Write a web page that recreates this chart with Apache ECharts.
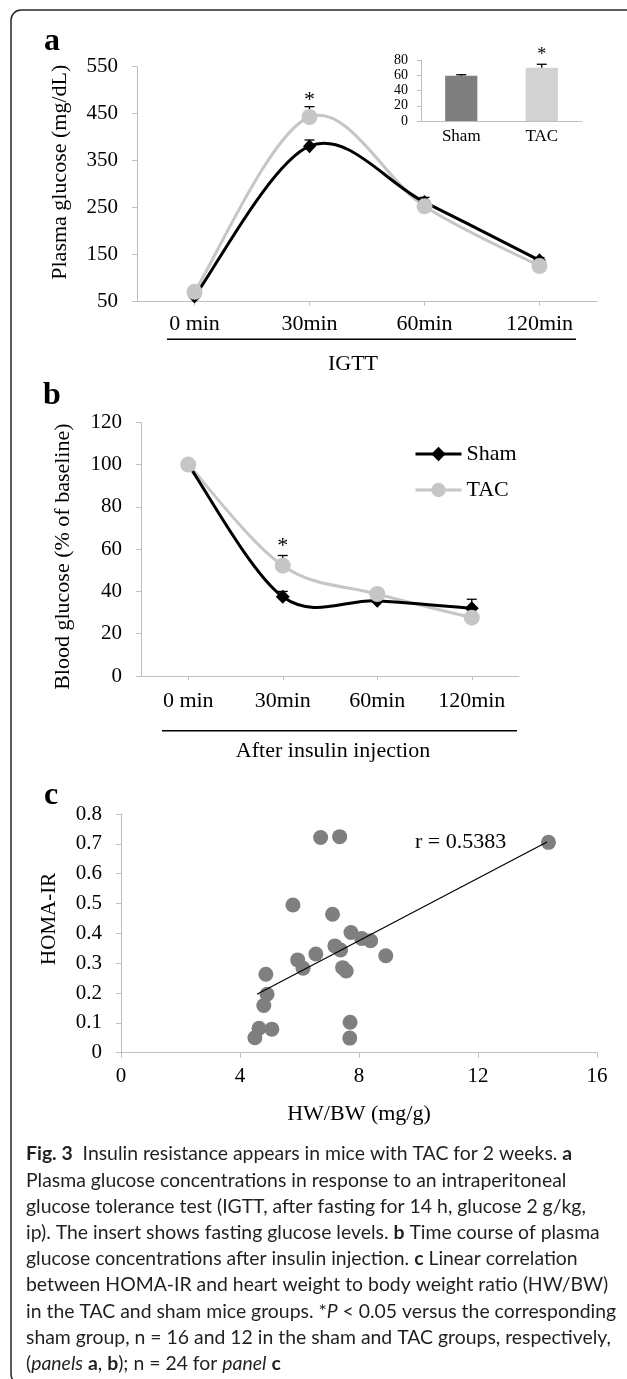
<!DOCTYPE html>
<html>
<head>
<meta charset="utf-8">
<script src="https://cdn.jsdelivr.net/npm/echarts@6/dist/echarts.min.js"></script>
<style>
html,body{margin:0;padding:0;background:#fff;}
#chart{width:627px;height:1379px;}
</style>
</head>
<body>
<div id="chart"></div>
<script>
// ---------- data ----------
const timeCategories = ['0 min', '30min', '60min', '120min'];

// panel a : IGTT plasma glucose (mg/dL)
const glucoseSham    = [61, 381, 262, 138];
const glucoseShamErr = [3, 13, 10, 6];
const glucoseTAC     = [71, 443, 253, 126];
const glucoseTACErr  = [4, 22, 8, 4];
const glucoseStar    = [[1, 478]];
const glucoseTicks   = [50, 150, 250, 350, 450, 550];

// inset : fasting glucose
const insetGroups       = ['Sham', 'TAC'];
const fastingGlucose    = [59.5, 70];
const fastingGlucoseErr = [1.2, 4.4];
const fastingStar       = [[1, 85.6]];
const insetTicks        = [0, 20, 40, 60, 80];

// panel b : blood glucose after insulin (% of baseline)
const insulinSham    = [100, 37.5, 35.6, 32];
const insulinShamErr = [0, 2.5, 2, 4.3];
const insulinTAC     = [100, 52.2, 38.8, 27.6];
const insulinTACErr  = [0, 4.8, 2.5, 2];
const insulinStar    = [[1, 61.6]];
const insulinTicks   = [0, 20, 40, 60, 80, 100, 120];

// panel c : HOMA-IR vs HW/BW
const hwbw   = [6.71, 7.35, 14.37, 5.78, 7.11, 7.73, 8.09, 8.39, 7.19, 7.38, 6.55, 8.90,
                5.94, 6.12, 7.45, 7.57, 4.87, 4.91, 4.80, 7.70, 4.64, 5.07, 4.50, 7.69];
const homaIR = [0.721, 0.724, 0.705, 0.495, 0.464, 0.403, 0.383, 0.375, 0.358, 0.344, 0.331, 0.325,
                0.311, 0.283, 0.285, 0.274, 0.263, 0.196, 0.158, 0.102, 0.082, 0.079, 0.050, 0.049];
const trendX = [4.57, 14.32];
const trendY = [0.196, 0.706];
const hwbwTicks = [0, 4, 8, 12, 16];
const homaTicks = [0, 0.1, 0.2, 0.3, 0.4, 0.5, 0.6, 0.7, 0.8];
const corrLabel = 'r = 0.5383';

const captionLines = [
  '{b|Fig. 3}  Insulin resistance appears in mice with TAC for 2 weeks. {b|a}',
  'Plasma glucose concentrations in response to an intraperitoneal',
  'glucose tolerance test (IGTT, after fasting for 14 h, glucose 2 g/kg,',
  'ip). The insert shows fasting glucose levels. {b|b} Time course of plasma',
  'glucose concentrations after insulin injection. {b|c} Linear correlation',
  'between HOMA-IR and heart weight to body weight ratio (HW/BW)',
  'in the TAC and sham mice groups. *{i|P} < 0.05 versus the corresponding',
  'sham group, n = 16 and 12 in the sham and TAC groups, respectively,',
  '({i|panels} {b|a}, {b|b}); n = 24 for {i|panel} {b|c}'
];

// ---------- styles ----------
const SERIF = 'Liberation Serif';
const AXIS_GRAY = '#bfbfbf';
const BLACK = '#000000';
const LIGHT = '#c6c6c6';
const DARK_BAR = '#7f7f7f';
const LIGHT_BAR = '#d2d2d2';
const CAP_FONT = '19.4px Lato';

function valueAxis(grid, ticks, extra) {
  return Object.assign({
    gridIndex: grid, type: 'value',
    min: ticks[0], max: ticks[ticks.length - 1], interval: ticks[1] - ticks[0],
    splitLine: {show: false},
    axisLine: {show: true, lineStyle: {color: AXIS_GRAY, width: 1}},
    axisTick: {show: true, length: 5, lineStyle: {color: AXIS_GRAY}},
    axisLabel: {margin: 19, fontFamily: SERIF, fontSize: 21, color: BLACK},
    nameTextStyle: {fontFamily: SERIF, fontSize: 21, color: BLACK}
  }, extra);
}
function catAxis(grid, cats, extra) {
  return Object.assign({
    gridIndex: grid, type: 'category', data: cats, boundaryGap: true,
    axisLine: {show: true, lineStyle: {color: AXIS_GRAY, width: 1}},
    axisTick: {show: true, alignWithLabel: true, length: 4, lineStyle: {color: AXIS_GRAY}},
    axisLabel: {margin: 12, fontFamily: SERIF, fontSize: 22, color: BLACK, interval: 0},
    splitLine: {show: false},
    nameTextStyle: {fontFamily: SERIF, fontSize: 22, color: BLACK}
  }, extra);
}
function errData(means, errs) { return means.map((m, i) => [i, m, errs[i]]); }
function errorBars(xi, yi, means, errs, capW, z) {
  return {
    type: 'custom', xAxisIndex: xi, yAxisIndex: yi, z: z, silent: true,
    encode: {x: 0, y: 1},
    data: errData(means, errs),
    renderItem: function (params, api) {
      const idx = api.value(0), m = api.value(1), e = api.value(2);
      const p0 = api.coord([idx, m]);
      const p1 = api.coord([idx, m + e]);
      const st = {stroke: BLACK, lineWidth: 1.3};
      return {type: 'group', children: [
        {type: 'line', shape: {x1: p0[0], y1: p0[1], x2: p1[0], y2: p1[1]}, style: st},
        {type: 'line', shape: {x1: p1[0] - capW / 2, y1: p1[1], x2: p1[0] + capW / 2, y2: p1[1]}, style: st}
      ]};
    }
  };
}
function stars(xi, yi, data, size) {
  return {
    type: 'custom', xAxisIndex: xi, yAxisIndex: yi, z: 8, silent: true,
    encode: {x: 0, y: 1},
    data: data,
    renderItem: function (params, api) {
      const p = api.coord([api.value(0), api.value(1)]);
      return {type: 'text', x: p[0], y: p[1],
        style: {text: '*', font: size + 'px "' + SERIF + '"', fill: BLACK,
                align: 'center', verticalAlign: 'middle'}};
    }
  };
}
// Spreadsheet-style smoothed line (Catmull-Rom segments through the data points)
function smoothCurve(xi, yi, values, color, z) {
  const n = values.length;
  return {
    type: 'custom', xAxisIndex: xi, yAxisIndex: yi, z: z, silent: true,
    encode: {x: 0, y: 1},
    data: values.map((v, i) => [i, v]),
    renderItem: function (params, api) {
      const i = params.dataIndex;
      if (i >= n - 1) return {type: 'group', children: []};
      const P = k => api.coord([k, values[k]]);
      const p0 = P(Math.max(i - 1, 0)), p1 = P(i), p2 = P(i + 1), p3 = P(Math.min(i + 2, n - 1));
      const t = 1 / 6;
      return {
        type: 'bezierCurve',
        shape: {
          x1: p1[0], y1: p1[1], x2: p2[0], y2: p2[1],
          cpx1: p1[0] + (p2[0] - p0[0]) * t, cpy1: p1[1] + (p2[1] - p0[1]) * t,
          cpx2: p2[0] - (p3[0] - p1[0]) * t, cpy2: p2[1] - (p3[1] - p1[1]) * t
        },
        style: {stroke: color, lineWidth: 3, fill: 'none', lineCap: 'round'}
      };
    }
  };
}
function markers(name, xi, yi, data, color, symbol, size, z) {
  return {
    name: name, type: 'line', xAxisIndex: xi, yAxisIndex: yi, data: data,
    symbol: symbol, symbolSize: size, showSymbol: true, z: z, silent: true,
    lineStyle: {color: color, width: 3, opacity: 0},
    itemStyle: {color: color, opacity: 1}
  };
}

const chart = echarts.init(document.getElementById('chart'), null, {renderer: 'canvas'});

const option = {
  animation: false,
  backgroundColor: '#ffffff',
  textStyle: {fontFamily: SERIF},
  grid: [
    {left: 137, top: 66.7, width: 460, height: 235, outerBoundsMode: 'none', containLabel: false},
    {left: 421, top: 60, width: 161, height: 61, outerBoundsMode: 'none', containLabel: false},
    {left: 141, top: 422.3, width: 378, height: 253.7, outerBoundsMode: 'none', containLabel: false},
    {left: 121, top: 814, width: 476, height: 238.7, outerBoundsMode: 'none', containLabel: false}
  ],
  xAxis: [
    catAxis(0, timeCategories, {name: 'IGTT', nameLocation: 'middle', nameGap: 52,
      nameTextStyle: {fontFamily: SERIF, fontSize: 22, color: BLACK, padding: [0, 28, 0, 0]}}),
    catAxis(1, insetGroups, {axisTick: {show: false},
      axisLabel: {margin: 7, fontFamily: SERIF, fontSize: 17, color: BLACK, interval: 0}}),
    catAxis(2, timeCategories, {name: 'After insulin injection', nameLocation: 'middle', nameGap: 64,
      axisLabel: {margin: 14, fontFamily: SERIF, fontSize: 22, color: BLACK, interval: 0},
      nameTextStyle: {fontFamily: SERIF, fontSize: 22, color: BLACK, padding: [0, 0, 0, 6]}}),
    valueAxis(3, hwbwTicks, {name: 'HW/BW (mg/g)', nameLocation: 'middle', nameGap: 51,
      axisLabel: {margin: 13, fontFamily: SERIF, fontSize: 21, color: BLACK},
      nameTextStyle: {fontFamily: SERIF, fontSize: 22, color: BLACK}})
  ],
  yAxis: [
    valueAxis(0, glucoseTicks, {name: 'Plasma glucose (mg/dL)', nameLocation: 'middle', nameGap: 66,
      nameTextStyle: {fontFamily: SERIF, fontSize: 22, color: BLACK, padding: [0, 0, 0, 24]}}),
    valueAxis(1, insetTicks, {axisTick: {show: true, length: 4, lineStyle: {color: AXIS_GRAY}},
      axisLabel: {margin: 13, fontFamily: SERIF, fontSize: 14, color: BLACK}}),
    valueAxis(2, insulinTicks, {name: 'Blood glucose (% of baseline)', nameLocation: 'middle', nameGap: 67,
      nameTextStyle: {fontFamily: SERIF, fontSize: 22, color: BLACK, padding: [0, 15, 0, 0]}}),
    valueAxis(3, homaTicks, {name: 'HOMA-IR', nameLocation: 'middle', nameGap: 61,
      nameTextStyle: {fontFamily: SERIF, fontSize: 21, color: BLACK, padding: [0, 0, 0, 29]}})
  ],
  legend: {
    data: ['Sham', 'TAC'], orient: 'vertical', left: 414, top: 443,
    itemWidth: 46, itemHeight: 18, itemGap: 14, padding: 0, selectedMode: false,
    lineStyle: {width: 3, opacity: 1},
    textStyle: {fontFamily: SERIF, fontSize: 22, color: BLACK}
  },
  series: [
    // panel a
    smoothCurve(0, 0, glucoseTAC, LIGHT, 2),
    smoothCurve(0, 0, glucoseSham, BLACK, 3),
    errorBars(0, 0, glucoseSham, glucoseShamErr, 10, 4),
    errorBars(0, 0, glucoseTAC, glucoseTACErr, 10, 4),
    markers('Sham', 0, 0, glucoseSham, BLACK, 'diamond', [13, 14], 5),
    markers('TAC', 0, 0, glucoseTAC, LIGHT, 'circle', 16, 6),
    stars(0, 0, glucoseStar, 22),
    // inset
    {
      name: 'Fasting glucose', type: 'bar', xAxisIndex: 1, yAxisIndex: 1, barWidth: '40%', z: 2, silent: true,
      data: fastingGlucose.map((v, i) => ({value: v, itemStyle: {color: i === 0 ? DARK_BAR : LIGHT_BAR}}))
    },
    errorBars(1, 1, fastingGlucose, fastingGlucoseErr, 10, 4),
    stars(1, 1, fastingStar, 18),
    // panel b
    smoothCurve(2, 2, insulinTAC, LIGHT, 2),
    smoothCurve(2, 2, insulinSham, BLACK, 3),
    errorBars(2, 2, insulinSham, insulinShamErr, 10, 4),
    errorBars(2, 2, insulinTAC, insulinTACErr, 10, 4),
    markers('Sham', 2, 2, insulinSham, BLACK, 'diamond', [14, 14], 5),
    markers('TAC', 2, 2, insulinTAC, LIGHT, 'circle', 16, 6),
    stars(2, 2, insulinStar, 22),
    // panel c
    {
      name: 'HOMA-IR', type: 'scatter', xAxisIndex: 3, yAxisIndex: 3, symbol: 'circle', symbolSize: 15,
      z: 2, silent: true, itemStyle: {color: DARK_BAR, opacity: 1},
      data: hwbw.map((x, i) => [x, homaIR[i]])
    },
    {
      name: 'Trend', type: 'line', xAxisIndex: 3, yAxisIndex: 3, symbol: 'none', z: 3, silent: true,
      lineStyle: {color: BLACK, width: 1.2},
      data: trendX.map((x, i) => [x, trendY[i]])
    }
  ],
  graphic: [
    {type: 'rect', z: 0, shape: {x: 11, y: 10, width: 800, height: 1374, r: 10},
     style: {fill: 'none', stroke: '#262626', lineWidth: 1.5}},
    {type: 'text', x: 44, y: 42, style: {text: 'a', font: 'bold 32px "Liberation Serif"', fill: BLACK, align: 'left', verticalAlign: 'middle'}},
    {type: 'text', x: 43, y: 396, style: {text: 'b', font: 'bold 32px "Liberation Serif"', fill: BLACK, align: 'left', verticalAlign: 'middle'}},
    {type: 'text', x: 44, y: 796, style: {text: 'c', font: 'bold 32px "Liberation Serif"', fill: BLACK, align: 'left', verticalAlign: 'middle'}},
    {type: 'line', shape: {x1: 167, y1: 339.3, x2: 576, y2: 339.3}, style: {stroke: BLACK, lineWidth: 1.5}},
    {type: 'line', shape: {x1: 162, y1: 730.7, x2: 517, y2: 730.7}, style: {stroke: BLACK, lineWidth: 1.5}},
    {type: 'text', x: 415, y: 842, style: {text: corrLabel, font: '22px "Liberation Serif"', fill: BLACK, align: 'left', verticalAlign: 'middle'}},
    {type: 'text', x: 26, y: 1141, style: {
      text: captionLines.join('\n'),
      font: CAP_FONT, fill: '#231f20', lineHeight: 26.2, align: 'left', verticalAlign: 'top',
      rich: {
        b: {font: 'bold ' + CAP_FONT, fill: '#231f20', lineHeight: 26.2},
        i: {font: 'italic ' + CAP_FONT, fill: '#231f20', lineHeight: 26.2}
      }
    }}
  ]
};
chart.setOption(option);
</script>
</body>
</html>
